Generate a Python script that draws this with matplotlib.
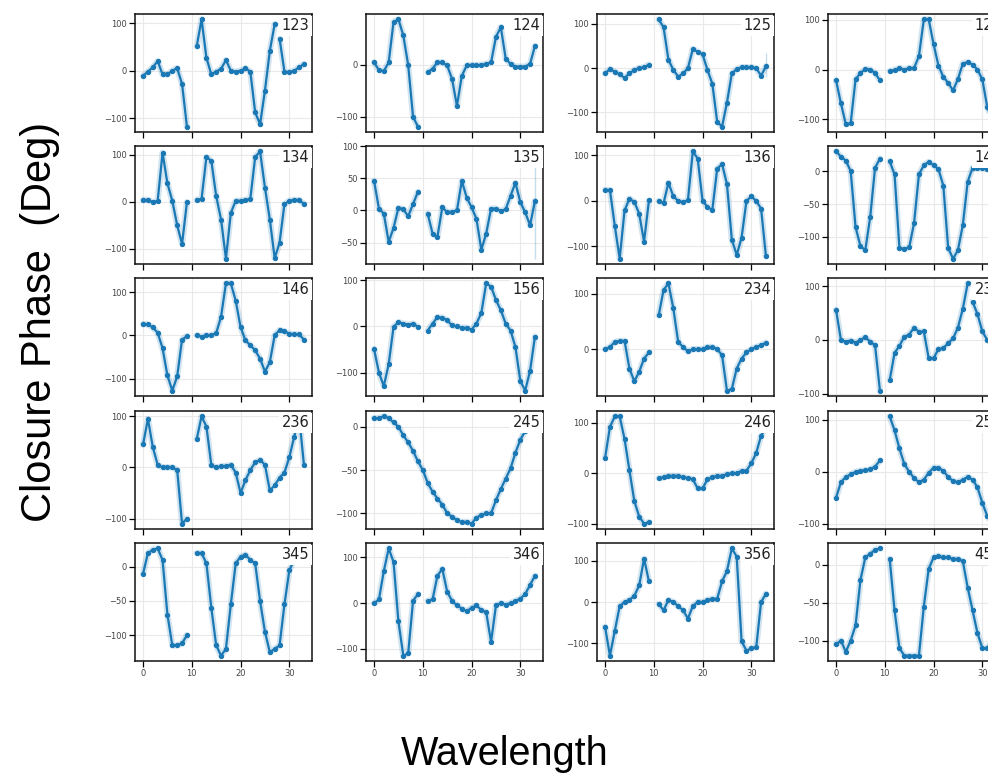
import numpy as np
import matplotlib
matplotlib.use('Agg')
import matplotlib.pyplot as plt
from matplotlib.ticker import MaxNLocator, MultipleLocator

N = None  # 缺测
chan = list(range(34))  # 波长通道
triangles = ['123', '124', '125', '126',
             '134', '135', '136', '145',
             '146', '156', '234', '235',
             '236', '245', '246', '256',
             '345', '346', '356', '456']

# closure phase (deg), 每个三角形一组
cp_123 = [-11, -2, 7, 20, -8, -8, 0, 5, -28, -118, N, 51, 108, 27, -8, -2, 4, 22, 0, -2, 0, 5, -2, -88, -113, -42, 42, 98, 67, -2, -3, 0, 7, 14]
cp_124 = [5, -10, -12, 5, 83, 88, 57, 0, -100, -119, N, -14, -7, 5, 5, -1, -27, -79, -21, -1, 0, 0, 0, 2, 5, 54, 73, 12, 2, -3, -3, -3, 2, 37]
cp_125 = [-12, -2, -8, -14, -22, -12, -4, 0, 2, 8, N, 110, 92, 19, -4, -19, -12, 0, 43, 37, 31, -4, -35, -121, -132, -78, -12, -2, 2, 2, 2, 0, -17, 4]
cp_126 = [-22, -68, -110, -108, -20, -7, 1, 0, -7, -22, N, -3, -1, 3, 0, 3, 3, 27, 101, 101, 51, 8, -15, -27, -42, -19, 12, 15, 10, 0, -20, -75, -100, -115]
cp_134 = [4, 4, -1, 2, 104, 39, 2, -50, -90, -1, N, 4, 6, 95, 87, 12, -38, -121, -24, 2, 2, 4, 6, 95, 107, 30, -38, -120, -87, -5, 2, 4, 4, -5]
cp_135 = [46, 3, -5, -49, -27, 4, 2, -9, 10, 29, N, -5, -36, -41, 5, -3, -2, 0, 46, 20, 5, -13, -61, -36, 3, 3, -1, 2, 23, 43, 13, -3, -23, 15]
cp_136 = [24, 24, -55, -127, -21, 5, -2, -28, -90, 1, N, 0, -5, 40, 10, 0, -3, 2, 109, 93, 0, -13, -20, 71, 81, 37, -85, -119, -81, 0, 10, 0, -17, -122]
cp_145 = [30, 22, 16, 0, -85, -114, -120, -70, 5, 19, N, 15, -5, -117, -118, -116, -79, -5, 9, 14, 9, 3, -22, -117, -133, -120, -82, -16, 5, 5, 5, 3, 2, 2]
cp_146 = [26, 25, 18, 6, -30, -93, -128, -95, -10, -2, N, 0, -3, 0, 0, 5, 43, 120, 120, 80, 19, -12, -23, -35, -54, -84, -62, 0, 12, 9, 4, 2, 2, -10]
cp_156 = [-49, -100, -129, -82, -1, 9, 6, 4, 6, -1, N, -9, 6, 20, 19, 13, 2, 0, -3, -3, -7, 6, 29, 93, 86, 57, 35, 6, -9, -45, -118, -139, -96, -22]
cp_234 = [0, 4, 13, 15, 15, -35, -58, -41, -17, -6, N, 61, 107, 119, 74, 13, 4, -4, 0, 0, 0, 4, 4, 0, -11, -75, -72, -35, -17, -6, 0, 4, 7, 12]
cp_235 = [56, 0, -3, -1, -5, 0, 5, -3, -10, -94, N, -75, -24, -11, 6, 10, 23, 15, 16, -34, -34, -17, -15, -6, 3, 23, 58, 105, 71, 48, 16, 0, -5, -5]
cp_236 = [45, 95, 40, 5, 0, 0, 0, -5, -110, -100, N, 55, 100, 80, 5, 0, 2, 3, 5, -10, -50, -25, -5, 10, 15, 5, -45, -35, -20, -10, 20, 60, 100, 5]
cp_245 = [10, 10, 12, 10, 5, 0, -10, -18, -28, -40, -50, -65, -75, -83, -90, -100, -104, -108, -110, -110, -112, -105, -102, -100, -100, -85, -72, -60, -48, -30, -15, -5, 5, 8]
cp_246 = [30, 92, 113, 113, 68, 6, -55, -86, -100, -97, N, -10, -8, -5, -5, -5, -8, -10, -12, -30, -30, -12, -8, -5, -5, -2, 0, 0, 5, 5, 20, 40, 75, 90]
cp_256 = [-50, -20, -10, -5, 0, 2, 3, 5, 10, 22, N, 107, 80, 45, 15, 0, -12, -20, -15, -2, 8, 8, 2, -10, -18, -20, -15, -10, -15, -30, -60, -85, -100, -95]
cp_345 = [-10, 20, 25, 27, 10, -70, -115, -115, -112, -100, N, 20, 20, 5, -60, -115, -130, -120, -55, 5, 15, 18, 10, 5, -50, -95, -125, -120, -115, -55, -5, 10, 15, 20]
cp_346 = [0, 8, 70, 120, 90, -40, -115, -110, 5, 20, N, 5, 8, 60, 75, 25, 5, -5, -12, -18, -10, -5, -15, -20, -85, -5, 0, -3, 0, 5, 10, 20, 40, 60]
cp_356 = [-60, -130, -70, -10, 0, 5, 15, 40, 105, 50, N, -5, -20, 5, 0, -10, -20, -40, -10, 0, 0, 5, 8, 8, 50, 75, 130, 110, -95, -118, -112, -110, 0, 20]
cp_456 = [-105, -100, -115, -100, -80, -20, 10, 15, 20, 22, N, 8, -60, -110, -120, -120, -120, -120, -55, -5, 10, 12, 10, 10, 8, 8, 5, -30, -60, -90, -110, -110, -100, -90]

# 线段断开的位置 (在该通道之后断开)
breaks = {'123': [27], '235': [27]}
# 末端通道的误差棒 (下限, 上限)
err_end = {'135': (-75, 92), '125': (-20, 35)}

cp_all = [cp_123, cp_124, cp_125, cp_126, cp_134, cp_135, cp_136, cp_145,
          cp_146, cp_156, cp_234, cp_235, cp_236, cp_245, cp_246, cp_256,
          cp_345, cp_346, cp_356, cp_456]

C = '#1a78b4'

fig = plt.figure(figsize=(9.88, 7.74), dpi=100)
W, H = 988., 774.
lefts = [135, 366, 597, 828]
tops = [14, 146, 278, 411, 543]
aw, ah = 177, 118

for k, (name, cp) in enumerate(zip(triangles, cp_all)):
    r, c = divmod(k, 4)
    ax = fig.add_axes([lefts[c] / W, 1 - (tops[r] + ah) / H, aw / W, ah / H])
    x = np.array(chan, float)
    y = np.array([np.nan if v is None else v for v in cp], float)
    for b in sorted(breaks.get(name, []), reverse=True):
        x = np.insert(x, b + 1, b + 0.5)
        y = np.insert(y, b + 1, np.nan)
    ax.plot(x, y, color=C, lw=4.5, alpha=0.2, solid_capstyle='round')
    ax.plot(x, y, color=C, lw=1.6, marker='o', ms=2.8)
    if name in err_end:
        lo, hi = err_end[name]
        ax.vlines(chan[-1], lo, hi, color=C, lw=1.0, alpha=0.25)
    ax.xaxis.set_major_locator(MultipleLocator(10))
    ax.yaxis.set_major_locator(MaxNLocator(4, steps=[1, 2, 5, 10]))
    ax.grid(True, color='#e9e9e9', lw=0.8)
    ax.set_axisbelow(True)
    for s in ax.spines.values():
        s.set_linewidth(1.1)
        s.set_color('#111111')
    ax.tick_params(labelsize=6, labelcolor='#444444', length=4, width=0.9, pad=2)
    if r < 4:
        ax.tick_params(labelbottom=False)
    ax.text(0.985, 0.965, name, transform=ax.transAxes, ha='right', va='top',
            fontsize=10.5, color='#222222', zorder=10,
            bbox=dict(fc='white', ec='none', pad=1.8))

fig.text(40 / W, 1 - 322 / H, 'Closure Phase  (Deg)', rotation=90,
         ha='center', va='center', fontsize=30, family='Liberation Sans')
fig.text(505 / W, 1 - 754 / H, 'Wavelength', ha='center', va='center',
         fontsize=28.5, family='Liberation Sans')

fig.savefig('out.png', dpi=100)
